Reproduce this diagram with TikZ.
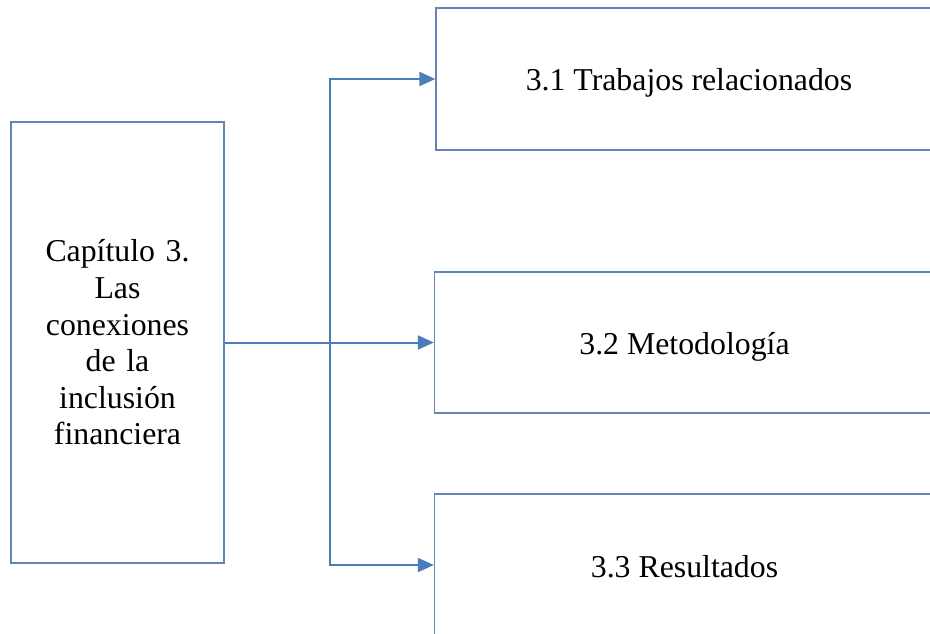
\documentclass[tikz,border=0pt]{standalone}
\usepackage{fontspec}
\setmainfont{Liberation Serif}
\usetikzlibrary{arrows.meta}
\definecolor{linkblue}{RGB}{74,126,187}
\definecolor{framecol}{RGB}{98,132,182}
\begin{document}
\begin{tikzpicture}[x=1pt,y=-1pt,
  box/.style={draw=framecol,line width=1.3pt,fill=white,inner sep=0pt,
    font=\fontsize{31.8}{36.6}\selectfont,align=center},
  secbox/.style={box,minimum width=500pt,minimum height=142pt,
    text height=31pt,text depth=7pt},
  link/.style={draw=linkblue,line width=2pt,
    -{Triangle[length=16pt,width=14pt]}}]
  \useasboundingbox (0,0) rectangle (930,634);
  % chapter box on the left
  \node[box,minimum width=213pt,minimum height=441pt,text width=200pt]
    (chap) at (117.5,342.5)
    {Capítulo 3.\\Las\\conexiones\\de la\\inclusión\\financiera};
  % section boxes on the right
  \node[secbox,minimum width=506pt] (s1) at (689,79)
    {3.1 Trabajos relacionados};
  \node[secbox,minimum height=141pt] (s2) at (684.5,342.5)
    {3.2 Metodología};
  \node[secbox] (s3) at (684.5,565)
    {3.3 Resultados};
  % branching connectors
  \coordinate (split) at (330,342.5);
  \draw[link] (chap.east) -- (s2.west);
  \draw[link] (split) |- (s1.west);
  \draw[link] (split) |- (s3.west);
\end{tikzpicture}
\end{document}
